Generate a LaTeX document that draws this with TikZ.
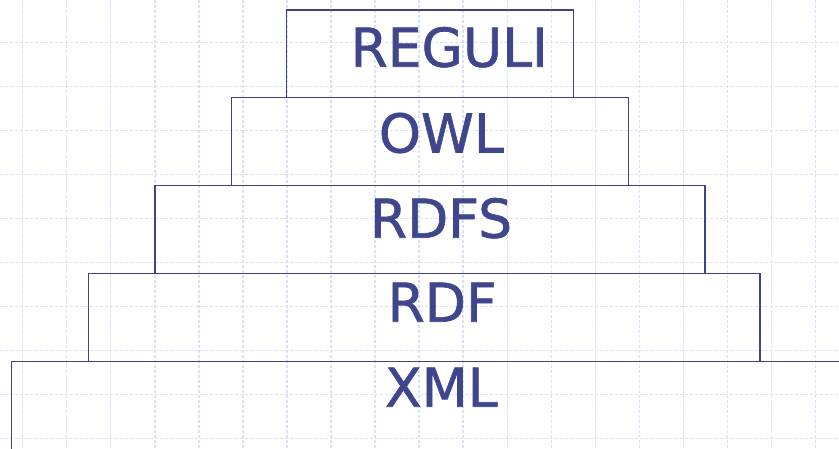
\documentclass[tikz,border=0pt]{standalone}
\usepackage{fontspec}
\setmainfont{DejaVu Sans}
\newfontfamily\lblfont[FakeBold=1.2]{DejaVu Sans}
\definecolor{gridc}{RGB}{216,224,250}
\definecolor{boxc}{RGB}{62,66,134}
\definecolor{txtc}{RGB}{64,70,140}
\begin{document}
\begin{tikzpicture}[x=1pt,y=-1pt,
  gridline/.style={draw=gridc,line width=1.5pt,dash pattern=on 3pt off 2pt},
  layer/.style={draw=boxc,line width=1.5pt,rectangle,inner sep=0pt,outer sep=0pt},
  label/.style={text=txtc,anchor=base,inner sep=0pt,font=\lblfont\fontsize{53.5}{60}\selectfont}]
\useasboundingbox (0,0) rectangle (839,449);
\clip (0,0) rectangle (839,449);
% background grid
\foreach \k in {0,...,18}{
  \draw[gridline] ({22.6+44.06*\k},0) -- ({22.6+44.06*\k},449);
}
\foreach \k in {0,...,9}{
  \draw[gridline] (0,{42.7+44*\k}) -- (839,{42.7+44*\k});
}
% layers
\node[layer,minimum width=286.6pt,minimum height=87.7pt] (reguli) at (430,53.85) {};
\node[layer,minimum width=396.6pt,minimum height=88pt] (owl) at (430,141.7) {};
\node[layer,minimum width=550pt,minimum height=87.8pt] (rdfs) at (430,229.6) {};
\node[layer,minimum width=671.4pt,minimum height=88.2pt] (rdf) at (424.3,317.6) {};
\node[layer,minimum width=900pt,minimum height=150pt] (xml) at (461.5,436.7) {};
% labels
\node[label] (treguli) at (449.2,66.7) {REGULI};
\node[label] (towl) at (441.3,152.5) {OWL};
\node[label] (trdfs) at (441,237.7) {RDFS};
\node[label] (trdf) at (442.2,321.7) {RDF};
\node[label] (txml) at (441.3,406.7) {XML};
\end{tikzpicture}
\end{document}
